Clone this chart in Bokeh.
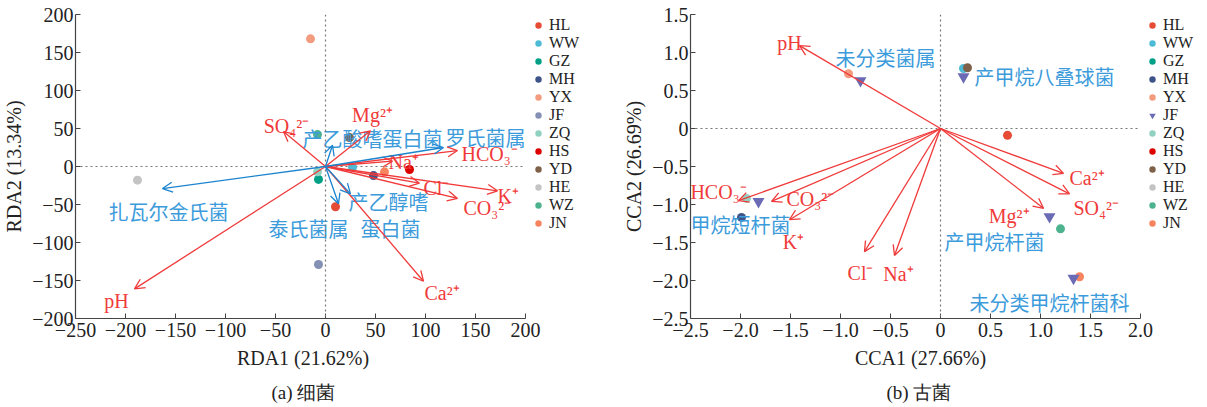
import numpy as np
from bokeh.plotting import figure
from bokeh.layouts import row
from bokeh.models import (Arrow, OpenHead, ColumnDataSource, Span, FixedTicker,
                          Legend, LegendItem, Title, CustomJSTickFormatter, Range1d)
from bokeh.core.properties import value
from bokeh.embed import file_html
from bokeh.resources import INLINE

# ---------------- data ----------------
samples = ["HL", "WW", "GZ", "MH", "YX", "JF", "ZQ", "HS", "YD", "HE", "WZ", "JN"]
sample_colors = ["#E64B35", "#4DBBD5", "#00A087", "#3C5488", "#F39B7F", "#8491B4",
                 "#91D1C2", "#DC0000", "#7E6148", "#C4C4C4", "#4DB38F", "#F7845E"]

# (a) bacteria RDA
bac_x = [10, 27, -7, 48, -15, -7, -8, 84, 24, -188, -8, 59]
bac_y = [-53, -1, -17, -12, 168, -129, -7, -4, 38, -18, 42, -7]
bac_env = ["pH", "SO₄²⁻", "Mg²⁺", "HCO₃⁻", "Na⁺", "Cl⁻", "K⁺", "CO₃²⁻", "Ca²⁺"]
bac_env_x = [-191, -42, 45, 132, 67, 94, 172, 132, 98]
bac_env_y = [-161, 46, 47, 21, 7, -22, -32, -42, -151]
bac_taxa = ["扎瓦尔金氏菌", "罗氏菌属", "产乙酸嗜蛋白菌", "泰氏菌属", "产乙醇嗜蛋白菌"]
bac_taxa_x = [-163, 118, 7, 13, 25]
bac_taxa_y = [-29, 25, 28, -49, -36]
bac_xlim = (-250, 200)
bac_ylim = (-200, 200)

# (b) archaea CCA
arc_x = [0.67, 0.23, np.nan, -1.99, -0.92, np.nan, -1.94, np.nan, 0.27, np.nan, 1.20, 1.39]
arc_y = [-0.09, 0.79, np.nan, -1.17, 0.72, np.nan, -0.92, np.nan, 0.80, np.nan, -1.32, -1.95]
arc_env = ["pH", "HCO₃⁻", "CO₃²⁻", "K⁺", "Cl⁻", "Na⁺", "Ca²⁺", "SO₄²⁻", "Mg²⁺"]
arc_env_x = [-1.41, -2.02, -1.69, -1.51, -0.76, -0.46, 1.23, 1.29, 1.03]
arc_env_y = [1.09, -0.95, -0.96, -1.20, -1.62, -1.67, -0.59, -0.86, -1.05]
arc_taxa = ["未分类菌属", "产甲烷八叠球菌", "甲烷短杆菌", "产甲烷杆菌", "未分类甲烷杆菌科"]
arc_taxa_x = [-0.80, 0.23, -1.82, 1.09, 1.33]
arc_taxa_y = [0.63, 0.68, -0.96, -1.16, -1.97]
arc_xlim = (-2.5, 2.0)
arc_ylim = (-2.5, 1.5)

# ---------------- styles ----------------
RED = "#F03A3A"
BLUE = "#1C84CF"
BLUE_TXT = "#3C9BDB"
SERIF = "Liberation Serif"
CJK = "Noto Sans CJK SC"
AX = "#444444"
FRAME_H = 304
AXIS_W = 450          # pixel width of the drawn axis extent
LEG_W = 65            # extra frame width that holds the legend
NBSP = "\u00a0"

# label pixel offsets (style)
bac_env_dx = [-18, 3, 2, 4, -4, 4, 0, 6, 1]
bac_env_dy = [12, -6, -16, 3, 1, 5, 5, 10, 12]
bac_env_align = ["center", "center", "center", "left", "left", "left", "left", "left", "left"]
bac_taxa_dx = [6, 42, 40, -30, 38]
bac_taxa_dy = [23, -10, -7, 25, 8]
bac_taxa_wrap = [0, 0, 0, 0, 4]     # split label after this many characters (0 = no wrap)
LINE_STEP = 27

arc_env_dx = [-10, -20, 15, 4, -4, 4, 6, 4, -14]
arc_env_dy = [-3, -9, -2, 22, 21, 19, 5, 14, 8]
arc_env_align = ["center", "center", "left", "center", "center", "center", "left", "left", "right"]
arc_taxa_dx = [25, 11, -18, -55, -24]
arc_taxa_dy = [-23, 0, 23, 25, 24]
arc_taxa_align = ["center", "left", "center", "center", "center"]


def make_fig(xlim, ylim, border_left, fmt_code, xt, yt, xlabel, ylabel, caption, pad_n):
    span = xlim[1] - xlim[0]
    x_end = xlim[1] + span * LEG_W / AXIS_W
    p = figure(frame_width=AXIS_W + LEG_W, frame_height=FRAME_H,
               x_range=Range1d(xlim[0], x_end), y_range=Range1d(*ylim),
               output_backend="svg", toolbar_location=None,
               min_border_left=border_left, min_border_right=0,
               min_border_top=14, min_border_bottom=76)
    p.xaxis.ticker = FixedTicker(ticks=xt)
    p.yaxis.ticker = FixedTicker(ticks=yt)
    p.xaxis.bounds = xlim
    fmt = CustomJSTickFormatter(code=fmt_code)
    p.xaxis.formatter = fmt
    p.yaxis.formatter = fmt
    for ax in p.axis:
        ax.major_tick_in = 5
        ax.major_tick_out = 0
        ax.minor_tick_line_color = None
        ax.axis_line_color = AX
        ax.major_tick_line_color = AX
        ax.axis_line_width = 1.2
        ax.major_label_text_font = SERIF
        ax.major_label_text_font_size = "20px"
        ax.major_label_text_color = "#222222"
        ax.axis_label_text_font = SERIF
        ax.axis_label_text_font_size = "20px"
        ax.axis_label_text_font_style = "normal"
        ax.axis_label_text_color = "#222222"
        ax.major_label_standoff = 2
        ax.axis_label_standoff = 4
    p.xaxis.major_label_standoff = 4
    p.xaxis.axis_label_standoff = 7
    # trailing no-break spaces centre the label under the drawn axis, not the legend area
    p.xaxis.axis_label = xlabel + NBSP * pad_n
    p.yaxis.axis_label = ylabel
    p.xgrid.grid_line_color = None
    p.ygrid.grid_line_color = None
    p.outline_line_color = None
    p.segment(x0=[xlim[0]], y0=[0], x1=[xlim[1]], y1=[0], line_dash="2 3",
              line_color="#777777", line_width=1.2)
    p.add_layout(Span(location=0, dimension="height", line_dash="2 3",
                      line_color="#777777", line_width=1.2))
    p.add_layout(Title(text=caption, align="left", offset=AXIS_W / 2 - 32,
                       text_font=SERIF, text_font_size="19px", text_font_style="normal",
                       text_color="#222222", standoff=11, padding=3), "below")
    return p


def add_arrows(p, xs, ys, color, head=10):
    src = ColumnDataSource(dict(x0=[0] * len(xs), y0=[0] * len(xs), x=xs, y=ys))
    p.add_layout(Arrow(end=OpenHead(size=head, line_color=color, line_width=1.3),
                       x_start="x0", y_start="y0", x_end="x", y_end="y", source=src,
                       line_color=color, line_width=1.3))


def make_legend(p, renderers, x_px):
    items = [LegendItem(label=s, renderers=[r]) for s, r in zip(samples, renderers)]
    n = len(items)
    row_h = 18.1
    height = n * row_h
    lg = Legend(items=items, location=(x_px, int(FRAME_H - height)), orientation="vertical",
                border_line_color=None, background_fill_alpha=0,
                label_text_font=SERIF, label_text_font_size="16px", label_text_color="#222222",
                glyph_width=16, glyph_height=16, label_height=16, spacing=0,
                label_standoff=3, padding=0, margin=0)
    p.add_layout(lg)


# ---------------- (a) bacteria ----------------
p1 = make_fig(bac_xlim, bac_ylim, 69,
              "return (tick < 0 ? '\u2212' : '') + Math.abs(tick).toString();",
              list(range(-250, 201, 50)), list(range(-200, 201, 50)),
              "RDA1 (21.62%)", "RDA2 (13.34%)", "(a) 细菌", 12)

add_arrows(p1, bac_env_x, bac_env_y, RED)
add_arrows(p1, bac_taxa_x, bac_taxa_y, BLUE)

r1 = []
for i, s in enumerate(samples):
    r1.append(p1.scatter([bac_x[i]], [bac_y[i]], size=9, color=sample_colors[i], line_color=None))

p1.text(x=bac_env_x, y=bac_env_y, text=bac_env, x_offset=bac_env_dx, y_offset=bac_env_dy,
        text_align=bac_env_align, text_baseline="middle", text_color=RED,
        text_font=value(SERIF), text_font_size="20px")

# taxa labels (long ones wrapped into two lines)
lx, ly, lt, ldx, ldy = [], [], [], [], []
for i, name in enumerate(bac_taxa):
    k = bac_taxa_wrap[i]
    parts = [name[:k], name[k:]] if k else [name]
    for j, part in enumerate(parts):
        lx.append(bac_taxa_x[i]); ly.append(bac_taxa_y[i]); lt.append(part)
        ldx.append(bac_taxa_dx[i] + (2 if j else 0)); ldy.append(bac_taxa_dy[i] + j * LINE_STEP)
p1.text(x=lx, y=ly, text=lt, x_offset=ldx, y_offset=ldy,
        text_align="center", text_baseline="middle", text_color=BLUE_TXT,
        text_font=value(CJK), text_font_size="20px")
make_legend(p1, r1, 455)

# ---------------- (b) archaea ----------------
p2 = make_fig(arc_xlim, arc_ylim, 100,
              "if (tick == 0) return '0'; return (tick < 0 ? '\u2212' : '') + Math.abs(tick).toFixed(1);",
              [-2.5, -2.0, -1.5, -1.0, -0.5, 0, 0.5, 1.0, 1.5, 2.0],
              [-2.5, -2.0, -1.5, -1.0, -0.5, 0, 0.5, 1.0, 1.5],
              "CCA1 (27.66%)", "CCA2 (26.69%)", "(b) 古菌", 11)

add_arrows(p2, arc_env_x, arc_env_y, RED)

r2 = []
for i, s in enumerate(samples):
    r2.append(p2.scatter([arc_x[i]], [arc_y[i]], size=9, color=sample_colors[i], line_color=None))
tri = p2.scatter(arc_taxa_x, arc_taxa_y, marker="inverted_triangle", size=12,
                 color="#6B6BB5", line_color=None)
r2[samples.index("JF")] = tri

p2.text(x=arc_env_x, y=arc_env_y, text=arc_env, x_offset=arc_env_dx, y_offset=arc_env_dy,
        text_align=arc_env_align, text_baseline="middle", text_color=RED,
        text_font=value(SERIF), text_font_size="20px")
p2.text(x=arc_taxa_x, y=arc_taxa_y, text=arc_taxa, x_offset=arc_taxa_dx, y_offset=arc_taxa_dy,
        text_align=arc_taxa_align, text_baseline="middle", text_color=BLUE_TXT,
        text_font=value(CJK), text_font_size="20px")
make_legend(p2, r2, 454)

layout = row(p1, p2)
open("out.html", "w").write(file_html(layout, INLINE))
